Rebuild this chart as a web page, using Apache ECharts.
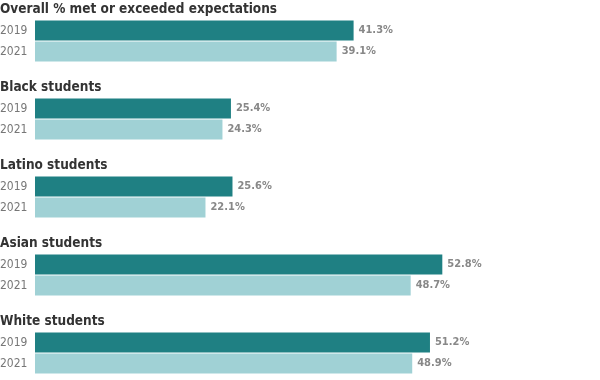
<!DOCTYPE html>
<html>
<head>
<meta charset="utf-8">
<script src="https://cdn.jsdelivr.net/npm/echarts@6/dist/echarts.min.js"></script>
<style>
html,body{margin:0;padding:0;background:#fff;}
#chart{width:600px;height:380px;}
</style>
</head>
<body>
<div id="chart"></div>
<script>
const groups = ['Overall % met or exceeded expectations', 'Black students', 'Latino students', 'Asian students', 'White students'];
const years = ['2019', '2021'];
const values2019 = [41.3, 25.4, 25.6, 52.8, 51.2];
const values2021 = [39.1, 24.3, 22.1, 48.7, 48.9];

const FONT = '"DejaVu Sans Condensed", "Liberation Sans Narrow", sans-serif';
const DARK = '#1f8083';
const LIGHT = '#a0d1d5';
const STEP = 78;

const chart = echarts.init(document.getElementById('chart'), null, {renderer: 'canvas'});
const grid = [], xAxis = [], yAxis = [], series = [], title = [];
groups.forEach((g, i) => {
  title.push({
    text: g, left: -5, top: STEP * i - 3,
    textStyle: {fontFamily: FONT, fontSize: 13.5, fontWeight: 'bold', color: '#333'}
  });
  grid.push({left: 35, width: 540, top: 20 + STEP * i, height: 42, outerBoundsMode: 'none', containLabel: false});
  xAxis.push({
    gridIndex: i, type: 'value', min: 0, max: 70, show: false
  });
  yAxis.push({
    gridIndex: i, type: 'category', data: years, inverse: true,
    axisLine: {show: false}, axisTick: {show: false}, splitLine: {show: false},
    axisLabel: {align: 'left', margin: 35, fontFamily: FONT, fontSize: 12, color: '#777'}
  });
  series.push({
    type: 'bar', xAxisIndex: i, yAxisIndex: i, barWidth: 20,
    data: [
      {value: values2019[i], itemStyle: {color: DARK}},
      {value: values2021[i], itemStyle: {color: LIGHT}}
    ],
    label: {
      show: true, position: 'right', distance: 5,
      formatter: p => p.value.toFixed(1) + '%',
      fontFamily: FONT, fontSize: 11, fontWeight: 'bold', color: '#888'
    },
    silent: true, animation: false
  });
});
chart.setOption({title, grid, xAxis, yAxis, series, animation: false});
</script>
</body>
</html>
